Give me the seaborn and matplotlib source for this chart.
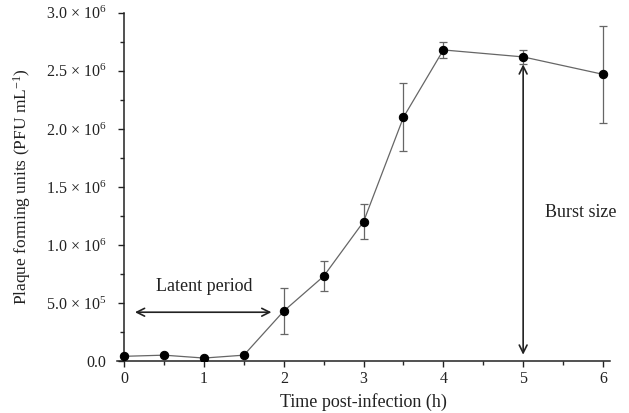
import numpy as np
import pandas as pd
import seaborn as sns
import matplotlib.pyplot as plt
from matplotlib.ticker import MultipleLocator, FuncFormatter

# one-step growth curve data
time_h = [0, 0.5, 1, 1.5, 2, 2.5, 3, 3.5, 4, 5, 6]
pfu = [0.04e6, 0.05e6, 0.025e6, 0.05e6, 0.43e6, 0.73e6, 1.20e6, 2.10e6, 2.68e6, 2.62e6, 2.47e6]
pfu_err = [0, 0, 0, 0, 0.195e6, 0.13e6, 0.15e6, 0.295e6, 0.07e6, 0.06e6, 0.42e6]

sns.set_style("ticks")
plt.rcParams['font.family'] = ['Liberation Serif', 'DejaVu Serif']
plt.rcParams['mathtext.fontset'] = 'custom'
plt.rcParams['mathtext.rm'] = 'Liberation Serif'
plt.rcParams['mathtext.it'] = 'Liberation Serif:italic'

df = pd.DataFrame({'time': time_h, 'pfu': pfu, 'err': pfu_err})

fig = plt.figure(figsize=(6.29, 4.13), dpi=100)
ax = fig.add_axes([0.186, 0.126, 0.784, 0.843])

ax.errorbar(df['time'], df['pfu'], yerr=df['err'], fmt='none', ecolor='#666666',
            elinewidth=0.9, capsize=3, capthick=0.9, zorder=2)
sns.lineplot(data=df, x='time', y='pfu', ax=ax, color='#666666', linewidth=0.9,
             marker='o', markersize=6, markerfacecolor='black', markeredgecolor='black', zorder=3)

# annotations
ax.annotate('', xy=(0.1, 0.42e6), xytext=(1.88, 0.42e6),
            arrowprops=dict(arrowstyle='<->', color='#222222', lw=1.2, mutation_scale=14))
ax.text(1.0, 0.64e6, 'Latent period', ha='center', va='center', fontsize=13, color='#222222')
ax.annotate('', xy=(5, 0.03e6), xytext=(5, 2.58e6),
            arrowprops=dict(arrowstyle='<->', color='#222222', lw=1.2, mutation_scale=14))
ax.text(5.27, 1.28e6, 'Burst size', ha='left', va='center', fontsize=13, color='#222222')

ax.set_xlim(-0.09, 6.09)
ax.set_ylim(0, 3.0e6)
ax.spines['left'].set_position(('data', 0))
sns.despine(ax=ax)

ax.xaxis.set_major_locator(MultipleLocator(1))
ax.xaxis.set_minor_locator(MultipleLocator(0.5))
ax.yaxis.set_major_locator(MultipleLocator(0.5e6))
ax.yaxis.set_minor_locator(MultipleLocator(0.25e6))


def sci_fmt(v, pos):
    if v == 0:
        return '0.0'
    exp = int(np.floor(np.log10(abs(v))))
    mant = v / 10 ** exp
    return f'{mant:.1f} \u00d7 10$^{{{exp}}}$'


ax.yaxis.set_major_formatter(FuncFormatter(sci_fmt))
ax.tick_params(axis='both', which='major', direction='out', length=4, width=1, labelsize=11.5,
               colors='#222222')
ax.tick_params(axis='y', which='major', pad=9)
ax.tick_params(axis='both', which='minor', direction='out', length=3, width=1)
for s in ['left', 'bottom']:
    ax.spines[s].set_linewidth(1.1)
    ax.spines[s].set_color('#222222')

ax.set_xlabel('Time post-infection (h)', fontsize=13, color='#222222', labelpad=4)
ax.set_ylabel('Plaque forming units (PFU mL$^{-1}$)', fontsize=12.5, color='#222222', labelpad=9)

fig.savefig('out.png', dpi=100)
